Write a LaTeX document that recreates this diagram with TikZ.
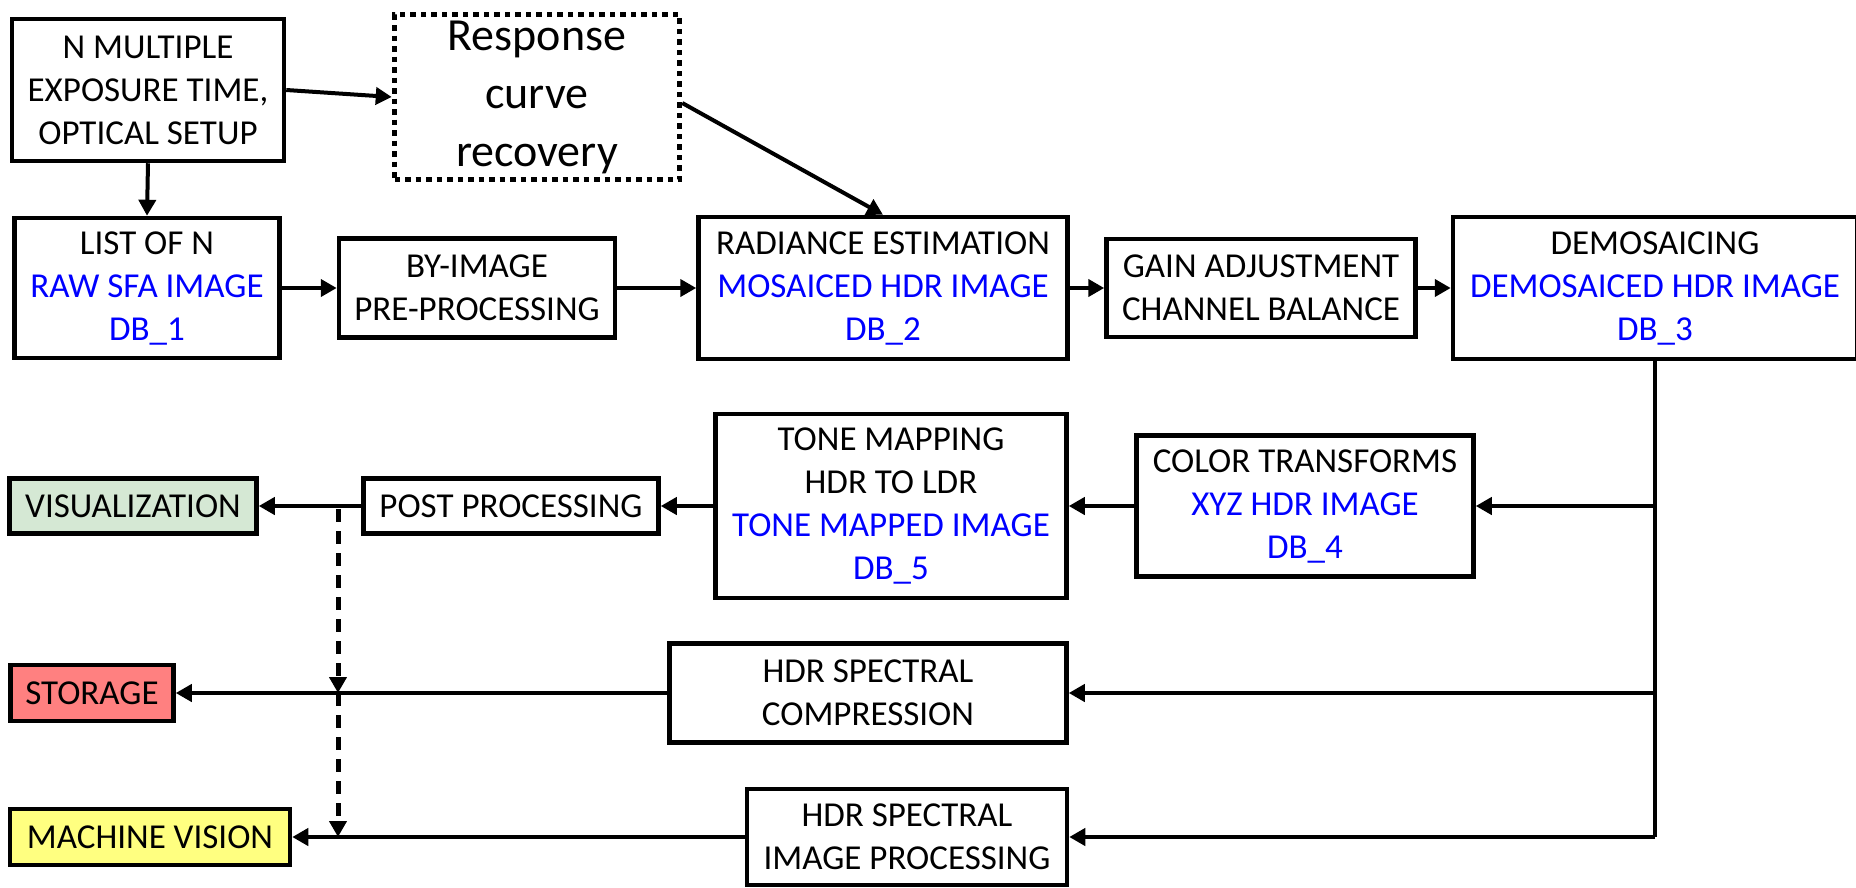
\documentclass[tikz,border=0pt]{standalone}
\usepackage{fontspec}
\setmainfont{Carlito}
\usetikzlibrary{arrows.meta}
\definecolor{dbblue}{RGB}{0,0,255}
\definecolor{visgreen}{RGB}{213,232,212}
\definecolor{storred}{RGB}{255,128,128}
\definecolor{mvyellow}{RGB}{255,255,128}
\begin{document}
\begin{tikzpicture}[x=1pt,y=-1pt,
  blk/.style={draw=black, line width=4.5pt, fill=white, inner sep=0pt, align=center,
    font=\fontsize{35}{43}\selectfont},
  dotbox/.style={draw=black, line width=5.5pt, dash pattern=on 5.5pt off 5pt, fill=white,
    inner sep=0pt, align=center, font=\fontsize{46}{58}\selectfont},
  conn/.style={line width=4pt, -{Triangle[length=16pt,width=17pt]}},
  plain/.style={line width=4pt},
  dashconn/.style={line width=5pt, dash pattern=on 13pt off 9pt, -{Triangle[length=16pt,width=17pt]}},
]
\useasboundingbox (0,0) rectangle (1856,887);

% top row
\node[blk, minimum width=272pt, minimum height=142pt] (nmult) at (148,90)
  {N MULTIPLE\\EXPOSURE TIME,\\OPTICAL SETUP};
\node[dotbox, minimum width=285pt, minimum height=165pt] (resp) at (537,97)
  {Response\\curve\\recovery};
\node[blk, minimum width=265pt, minimum height=140pt] (list) at (147,288)
  {LIST OF N\\\textcolor{dbblue}{RAW SFA IMAGE}\\\textcolor{dbblue}{DB\_1}};
\node[blk, minimum width=276pt, minimum height=99pt] (byimg) at (477,288)
  {BY-IMAGE\\PRE-PROCESSING};
\node[blk, minimum width=369pt, minimum height=142pt] (rad) at (883,288)
  {RADIANCE ESTIMATION\\\textcolor{dbblue}{MOSAICED HDR IMAGE}\\\textcolor{dbblue}{DB\_2}};
\node[blk, minimum width=309pt, minimum height=98pt] (gain) at (1261,288)
  {GAIN ADJUSTMENT\\CHANNEL BALANCE};
\node[blk, minimum width=404pt, minimum height=142pt] (demo) at (1655,288)
  {DEMOSAICING\\\textcolor{dbblue}{DEMOSAICED HDR IMAGE}\\\textcolor{dbblue}{DB\_3}};

% middle row
\node[blk, minimum width=337pt, minimum height=141pt] (color) at (1305,506)
  {COLOR TRANSFORMS\\\textcolor{dbblue}{XYZ HDR IMAGE}\\\textcolor{dbblue}{DB\_4}};
\node[blk, minimum width=351pt, minimum height=184pt] (tone) at (891,506)
  {TONE MAPPING\\HDR TO LDR\\\textcolor{dbblue}{TONE MAPPED IMAGE}\\\textcolor{dbblue}{DB\_5}};
\node[blk, minimum width=295pt, minimum height=55pt] (post) at (511,506)
  {POST PROCESSING};
\node[blk, fill=visgreen, minimum width=247pt, minimum height=55pt] (vis) at (133,506)
  {VISUALIZATION};

% lower rows
\node[blk, minimum width=397pt, minimum height=99pt] (comp) at (868,693)
  {HDR SPECTRAL\\COMPRESSION};
\node[blk, fill=storred, minimum width=163pt, minimum height=56pt] (stor) at (92,693)
  {STORAGE};
\node[blk, minimum width=320pt, minimum height=96pt] (imgproc) at (907,837)
  {HDR SPECTRAL\\IMAGE PROCESSING};
\node[blk, fill=mvyellow, minimum width=280pt, minimum height=56pt] (mv) at (150,837)
  {MACHINE VISION};

% junctions
\coordinate (jc) at (1655,506);
\coordinate (js) at (1655,693);
\coordinate (jm) at (1655,837);
\coordinate (dv) at (338,509);
\coordinate (ds) at (338,693);
\coordinate (dm) at (338,837);

% connectors
\draw[conn] (nmult.east) -- (resp.west);
\draw[conn] (nmult.south) -- (list.north);
\draw[conn] ([yshift=-6pt]resp.east) -- (rad.north);
\draw[conn] (list.east) -- (byimg.west);
\draw[conn] (byimg.east) -- (rad.west);
\draw[conn] (rad.east) -- (gain.west);
\draw[conn] (gain.east) -- (demo.west);
\draw[plain] (demo.south) -- (jm);
\draw[conn] (jc) -- (color.east);
\draw[conn] (js) -- (comp.east);
\draw[conn] (jm) -- (imgproc.east);
\draw[conn] (color.west) -- (tone.east);
\draw[conn] (tone.west) -- (post.east);
\draw[conn] (post.west) -- (vis.east);
\draw[conn] (comp.west) -- (stor.east);
\draw[conn] (imgproc.west) -- (mv.east);
\draw[dashconn] (dv) -- (ds);
\draw[dashconn] (ds) -- (dm);
\end{tikzpicture}
\end{document}
